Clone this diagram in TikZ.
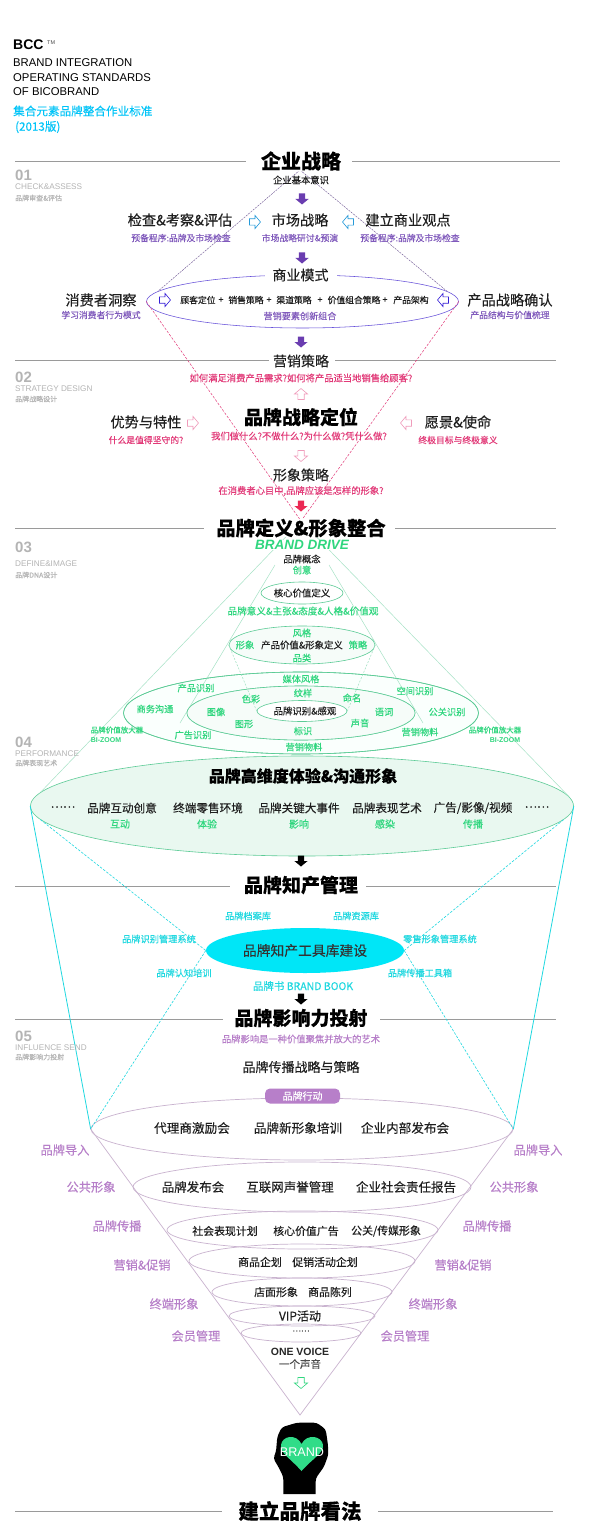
\documentclass[tikz,border=0pt]{standalone}
\usepackage{fontspec}
\setmainfont{Noto Sans CJK SC}[FakeBold=0.22,BoldFeatures={FakeBold=0.3}]
\newfontfamily\latinf{Liberation Sans}
\usetikzlibrary{shapes.geometric}
\newcommand{\fs}[1]{\fontsize{#1}{#1}\selectfont}
\newcommand{\arw}[4]{\filldraw[#4,shift={(#1,#2)},rotate=#3] (-5.5,-3.2) -- (0,-3.2) -- (0,-6.6) -- (5.5,0) -- (0,6.6) -- (0,3.2) -- (-5.5,3.2) -- cycle;}
\definecolor{vio}{HTML}{6A3DB0}
\definecolor{pinkc}{HTML}{E23A78}
\definecolor{grn}{HTML}{2FD67E}
\definecolor{grnl}{HTML}{5CCB96}
\definecolor{cyanc}{HTML}{1FD8E0}
\definecolor{cyanf}{HTML}{00E6F7}
\definecolor{purp}{HTML}{B77FC9}
\definecolor{purpl}{HTML}{C9B3CF}
\definecolor{rulec}{HTML}{9A9A9A}
\definecolor{secc}{HTML}{B4B4B4}
\tikzset{
 rulex/.style={draw=rulec,line width=0.9pt},
 title/.style={font=\fs{#1}\bfseries,text=black,inner sep=0pt},
 txt/.style={font=\fs{#1},text=black!88,inner sep=0pt},
 violet lab/.style={font=\fs{#1},text=vio!85,inner sep=0pt},
 pinklab/.style={font=\fs{#1},text=pinkc,inner sep=0pt},
 grnlab/.style={font=\fs{#1},text=grn,inner sep=0pt},
 cyanlab/.style={font=\fs{#1},text=cyanc,inner sep=0pt},
 purplab/.style={font=\fs{#1},text=purp,inner sep=0pt},
 secnum/.style={anchor=west,font=\latinf\fs{15}\bfseries,text=secc,inner sep=0pt},
 secen/.style={anchor=west,font=\latinf\fs{8.2},text=secc,inner sep=0pt},
 seccn/.style={anchor=west,font=\fs{7},text=secc,inner sep=0pt},
 hol/.style={draw=#1,fill=white,line width=0.6pt},
 sol/.style={draw=none,fill=#1},
 ell/.style={ellipse,inner sep=0pt,draw=grnl,line width=0.6pt},
 fun/.style={ellipse,inner sep=0pt,draw=purpl,line width=0.7pt},
 dashr/.style={draw=pinkc,line width=0.5pt,dash pattern=on 2.5pt off 1.5pt},
 dashb/.style={draw=vio!50!gray,line width=0.45pt,dash pattern=on 2pt off 1pt},
 gl/.style={draw=grnl!55,line width=0.5pt},
 gld/.style={draw=grnl!60,line width=0.5pt,dash pattern=on 2pt off 1.5pt},
 cysol/.style={draw=cyanc,line width=0.8pt},
 cyd/.style={draw=cyanc,line width=0.6pt,dash pattern=on 2.5pt off 1.5pt},
 whitebg/.style={fill=white,inner xsep=2pt,inner ysep=0pt}
}
\begin{document}
\begin{tikzpicture}[x=1pt,y=-1pt]
\useasboundingbox (0,0) rectangle (600,1538);
\fill[white] (0,0) rectangle (600,1538);
% apex points
\coordinate (apxA) at (300,170);
\coordinate (apxB) at (301,521);
\coordinate (apxF) at (300,1415);
% section rules
\draw[rulex] (15,161) -- (246,161) (352,161) -- (560,161);
\draw[rulex] (15,360) -- (269,360) (335,360) -- (556,360);
\draw[rulex] (15,528) -- (204,528) (395,528) -- (556,528);
\draw[rulex] (15,886) -- (230,886) (366,886) -- (556,886);
\draw[rulex] (15,1019) -- (223,1019) (380,1019) -- (556,1019);
\draw[rulex] (15,1511) -- (222,1511) (378,1511) -- (553,1511);
% key ellipses
\node[ellipse,inner sep=0pt,draw=blue!40!vio!80,line width=0.55pt,minimum width=312pt,minimum height=53pt] (bm) at (302.5,301.5) {};
\node[ell,fill=green!30!cyan!2,minimum width=355pt,minimum height=82pt] (e3) at (301,713) {};
\node[ell,fill=white,minimum width=228pt,minimum height=54pt] (e4) at (301,713) {};
\node[ell,fill={rgb,255:red,233;green,248;blue,240},minimum width=543pt,minimum height=100pt] (big) at (302,806) {};
% dashed frame lines
\draw[dashb] (apxA) -- (bm.176);
\draw[dashb] (apxA) -- (bm.4);
\draw[dashr] (bm.west) -- (apxB);
\draw[dashr] (bm.east) -- (apxB);
\draw[gl] (apxB) -- (big.177.5);
\draw[gl] (apxB) -- (big.2.5);
\coordinate (gA) at (275,565); \coordinate (gB) at (329,565);
\coordinate (gC) at (180,723); \coordinate (gD) at (423,723);
\draw[gl] (gA) -- (gC);
\draw[gl] (gB) -- (gD);
% green ellipses redrawn above the lines
\node[ell,minimum width=355pt,minimum height=82pt] (e3b) at (301,713) {};
\node[ell,fill={rgb,255:red,246;green,252;blue,249},minimum width=228pt,minimum height=54pt] (e4b) at (301,713) {};
\node[ell,fill=white,minimum width=90pt,minimum height=21pt] (e5) at (302,711) {};
\node[ell,fill={rgb,255:red,246;green,252;blue,249},minimum width=146pt,minimum height=38pt] (e2) at (302,645) {};
\node[ell,fill=white,minimum width=82pt,minimum height=22pt] (e1g) at (302,593) {};
\draw[gld] (e2.west) -- (e5.west);
\draw[gld] (e2.east) -- (e5.east);
% funnel ellipses
\node[fun,minimum width=422pt,minimum height=62pt] (f1) at (302,1129) {};
\node[fun,minimum width=338pt,minimum height=50pt] (f2) at (302,1187) {};
\node[fun,minimum width=271pt,minimum height=38pt] (f3) at (302.5,1230) {};
\node[fun,minimum width=226pt,minimum height=34pt] (f4) at (302,1261) {};
\node[fun,minimum width=180pt,minimum height=28pt] (f5) at (302,1292) {};
\node[fun,minimum width=146pt,minimum height=20pt] (f6) at (302,1316) {};
\node[fun,minimum width=120pt,minimum height=18pt] (f7) at (301,1333) {};
\draw[purpl,line width=0.7pt] (f1.west) -- (apxF) -- (f1.east);
% cyan ellipse and lines
\node[ellipse,inner sep=0pt,fill=cyanf,minimum width=198pt,minimum height=45pt,font=\fs{13.8},text=black!80] (cy) at (305,950.5) {品牌知产工具库建设};
\draw[cysol] (big.west) -- (f1.west);
\draw[cysol] (big.east) -- (f1.east);
\draw[cyd] (big.183.5) -- (cy.west);
\draw[cyd] (big.-3.5) -- (cy.east);
\draw[cyd] (cy.west) -- (f1.west);
\draw[cyd] (cy.east) -- (f1.east);
% header
\node[anchor=west,font=\latinf\fs{14}\bfseries,inner sep=0pt] (hb) at (13,45) {BCC};
\node[anchor=west,font=\latinf\fs{5.5},inner sep=0pt,text=black!70] (htm) at (47,43) {TM};
\node[anchor=west,font=\latinf\fs{11.3},inner sep=0pt] (h1) at (13,63) {BRAND INTEGRATION};
\node[anchor=west,font=\latinf\fs{11.3},inner sep=0pt] (h2) at (13,78) {OPERATING STANDARDS};
\node[anchor=west,font=\latinf\fs{11.3},inner sep=0pt] (h3) at (13,92) {OF BICOBRAND};
\node[anchor=west,font=\fs{11.6},text=cyanf!85!blue,inner sep=0pt] (h4) at (13,111) {集合元素品牌整合作业标准};
\node[anchor=west,font=\fs{11.6},text=cyanf!85!blue,inner sep=0pt] (h5) at (15,127) {(2013版)};
% section captions
\node[secnum] (s1a) at (15,175) {01};
\node[secen] (s1b) at (15,187) {CHECK\&ASSESS};
\node[seccn] (s1c) at (15,198) {品牌审查\&评估};
\node[secnum] (s2a) at (15,377) {02};
\node[secen] (s2b) at (15,389) {STRATEGY DESIGN};
\node[seccn] (s2c) at (15,399) {品牌战略设计};
\node[secnum] (s3a) at (15,547) {03};
\node[secen] (s3b) at (15,564) {DEFINE\&IMAGE};
\node[seccn] (s3c) at (15,575) {品牌DNA设计};
\node[secnum] (s4a) at (15,742) {04};
\node[secen] (s4b) at (15,754) {PERFORMANCE};
\node[seccn] (s4c) at (15,763) {品牌表现艺术};
\node[secnum] (s5a) at (15,1036) {05};
\node[secen] (s5b) at (15,1048) {INFLUENCE SEND};
\node[seccn] (s5c) at (15,1057) {品牌影响力投射};
% section 01
\node[title=20,whitebg] (t1) at (301,161) {企业战略};
\node[txt=9.3] (a1) at (301,180) {企业基本意识};
\arw{302}{199}{270}{sol=vio}
\node[txt=14.2] (a2) at (180,220) {检查\&考察\&评估};
\node[txt=14.2] (a3) at (300,220) {市场战略};
\node[txt=14.2] (a4) at (408,220) {建立商业观点};
\node[violet lab=8.8] (a5) at (181,238) {预备程序:品牌及市场检查};
\node[violet lab=8.8] (a6) at (300,238) {市场战略研讨\&预演};
\node[violet lab=8.8] (a7) at (410,238) {预备程序:品牌及市场检查};
\arw{255}{222}{0}{hol=blue!35!cyan!70!gray}
\arw{348}{222}{180}{hol=blue!35!cyan!70!gray}
\arw{302}{258}{270}{sol=vio}
\node[txt=14,fill=white,inner xsep=8pt,inner ysep=2pt] (a8) at (300.5,275) {商业模式};
\node[txt=14.2] (a9) at (101,300) {消费者洞察};
\node[violet lab=8.8] (a10) at (101,315) {学习消费者行为模式};
\node[txt=14.2] (a11) at (510,300) {产品战略确认};
\node[violet lab=8.8] (a12) at (510,315) {产品结构与价值梳理};
\arw{165}{300}{0}{hol=blue!50!vio}
\arw{443}{300}{180}{hol=blue!50!vio}
\node[txt=8.8] (b1) at (198,300) {顾客定位};
\node[txt=8.8] (b2) at (221,300) {+};
\node[txt=8.8] (b3) at (246,300) {销售策略};
\node[txt=8.8] (b4) at (269,300) {+};
\node[txt=8.8] (b5) at (294,300) {渠道策略};
\node[txt=8.8] (b6) at (320,300) {+};
\node[txt=8.8] (b7) at (354,300) {价值组合策略};
\node[txt=8.8] (b8) at (385,300) {+};
\node[txt=8.8] (b9) at (411,300) {产品架构};
\node[violet lab=9.1] (b10) at (300,316) {营销要素创新组合};
\arw{301}{342}{270}{sol=vio}
% section 02
\node[txt=14,whitebg] (c1) at (301,361) {营销策略};
\node[pinklab=9.3] (c2) at (301,378) {如何满足消费产品需求?如何将产品适当地销售给顾客?};
\arw{301}{394}{90}{hol=pinkc!50}
\node[title=19] (c3) at (301,417) {品牌战略定位};
\node[txt=14.2] (c4) at (146,422) {优势与特性};
\node[pinklab=8.8] (c5) at (146,440) {什么是值得坚守的?};
\arw{193}{423}{0}{hol=pinkc!50}
\arw{406}{423}{180}{hol=pinkc!50}
\node[txt=14.2] (c6) at (458,422) {愿景\&使命};
\node[pinklab=8.8] (c7) at (458,440) {终极目标与终极意义};
\node[pinklab=9.3] (c8) at (299,436) {我们做什么?不做什么?为什么做?凭什么做?};
\arw{301}{456}{270}{hol=pinkc!50}
\node[txt=14] (c9) at (301,475) {形象策略};
\node[pinklab=9.3] (c10) at (301,491) {在消费者心目中,品牌应该是怎样的形象?};
\arw{301}{506}{270}{sol=pinkc!70!red}
% section 03
\node[title=19.3,whitebg] (t3) at (301,528) {品牌定义\&形象整合};
\node[font=\latinf\fs{13.5}\bfseries\itshape,text=grn,fill=white,inner xsep=2pt,inner ysep=0pt] (d1) at (302,545) {BRAND DRIVE};
\node[txt=9.3,fill=white] (d2) at (302,559) {品牌概念};
\node[grnlab=9.3] (d3) at (302,570) {创意};
\node[txt=9.4] (d4) at (302,593) {核心价值定义};
\node[grnlab=9.6] (d5) at (303,611) {品牌意义\&主张\&态度\&人格\&价值观};
\node[grnlab=9.3] (d6) at (302,633) {风格};
\node[grnlab=9.3] (d7) at (245,645) {形象};
\node[txt=9.4] (d8) at (302,645) {产品价值\&形象定义};
\node[grnlab=9.3] (d9) at (358,645) {策略};
\node[grnlab=9.3] (d10) at (302,658) {品类};
\node[grnlab=9.2] (g1) at (301,679) {媒体风格};
\node[grnlab=9.2] (g2) at (303,693) {纹样};
\node[grnlab=9.2] (g3) at (196,688) {产品识别};
\node[grnlab=9.2] (g4) at (415,691) {空间识别};
\node[grnlab=9.2] (g5) at (155,709) {商务沟通};
\node[grnlab=9.2] (g6) at (216,712) {图像};
\node[grnlab=9.2] (g7) at (251,699) {色彩};
\node[grnlab=9.2] (g8) at (352,698) {命名};
\node[grnlab=9.2] (g9) at (384,712) {语词};
\node[grnlab=9.2] (g10) at (447,712) {公关识别};
\node[grnlab=9.2] (g11) at (244,724) {图形};
\node[grnlab=9.2] (g12) at (360,723) {声音};
\node[grnlab=9.2] (g13) at (303,731) {标识};
\node[grnlab=9.2] (g14) at (193,735) {广告识别};
\node[grnlab=9.2] (g15) at (420,732) {营销物料};
\node[grnlab=9.2] (g16) at (304,747) {营销物料};
\node[txt=9.4] (g17) at (305,711) {品牌识别\&感观};
\node[grnlab=7.5] (g18) at (117,730) {品牌价值放大器};
\node[font=\latinf\fs{7}\bfseries,text=grn,inner sep=0pt] (g19) at (106,740) {BI-ZOOM};
\node[grnlab=7.5] (g20) at (495,730) {品牌价值放大器};
\node[font=\latinf\fs{7}\bfseries,text=grn,inner sep=0pt] (g21) at (505,740) {BI-ZOOM};
% section 04
\node[title=16] (p1) at (303,776) {品牌高维度体验\&沟通形象};
\node[txt=11.6] (p2) at (63,807) {……};
\node[txt=11.6] (p3) at (122,808) {品牌互动创意};
\node[txt=11.6] (p4) at (208,808) {终端零售环境};
\node[txt=11.6] (p5) at (299,808) {品牌关键大事件};
\node[txt=11.6] (p6) at (387,808) {品牌表现艺术};
\node[txt=11.6] (p7) at (473,808) {广告/影像/视频};
\node[txt=11.6] (p8) at (537,807) {……};
\node[grnlab=10] (p9) at (120,824) {互动};
\node[grnlab=10] (p10) at (207,824) {体验};
\node[grnlab=10] (p11) at (299,824) {影响};
\node[grnlab=10] (p12) at (385,824) {感染};
\node[grnlab=10] (p13) at (473,824) {传播};
\arw{301}{861}{270}{sol=black}
\node[title=19,whitebg] (t4) at (301,885) {品牌知产管理};
% cyan labels
\node[cyanlab=9.2] (k1) at (248,916) {品牌档案库};
\node[cyanlab=9.2] (k2) at (356,916) {品牌资源库};
\node[cyanlab=9.2] (k3) at (159,939) {品牌识别管理系统};
\node[cyanlab=9.2] (k4) at (440,939) {零售形象管理系统};
\node[cyanlab=9.2] (k5) at (184,973) {品牌认知培训};
\node[cyanlab=9.2] (k6) at (420,973) {品牌传播工具箱};
\node[cyanlab=10.5] (k7) at (303,986) {品牌书 BRAND BOOK};
\arw{301}{999}{270}{sol=black}
% section 05
\node[title=19,whitebg] (t5) at (301,1018) {品牌影响力投射};
\node[purplab=9.3] (m1) at (301,1039) {品牌影响是一种价值聚焦并放大的艺术};
\node[txt=13] (m2) at (301,1067) {品牌传播战略与策略};
\node[rectangle,rounded corners=5pt,fill=purp,text=white,font=\fs{10},minimum width=75pt,minimum height=15pt,inner sep=0pt] (m3) at (302.5,1096) {品牌行动};
\node[txt=12.6] (n1) at (192,1128) {代理商激励会};
\node[txt=12.6] (n2) at (298,1128) {品牌新形象培训};
\node[txt=12.6] (n3) at (405,1128) {企业内部发布会};
\node[txt=12.5] (n4) at (193,1187) {品牌发布会};
\node[txt=12.5] (n5) at (290,1187) {互联网声誉管理};
\node[txt=12.5] (n6) at (406,1187) {企业社会责任报告};
\node[txt=10.9] (n7) at (225,1231) {社会表现计划};
\node[txt=10.9] (n8) at (306,1231) {核心价值广告};
\node[txt=10.9] (n9) at (386,1231) {公关/传媒形象};
\node[txt=10.9] (n10) at (260,1262) {商品企划};
\node[txt=10.9] (n11) at (325,1262) {促销活动企划};
\node[txt=10.9] (n12) at (276,1292) {店面形象};
\node[txt=10.9] (n13) at (330,1292) {商品陈列};
\node[txt=12] (n14) at (300,1316) {VIP活动};
\node[txt=8] (n15) at (301,1331) {……};
\node[font=\latinf\fs{10.5}\bfseries,text=black!85,inner sep=0pt] (n16) at (300,1352) {ONE VOICE};
\node[font=\fs{10.5},text=black!70,inner sep=0pt] (n17) at (300,1364) {一个声音};
\arw{301}{1383}{270}{hol=grn}
% side labels
\node[purplab=12.2] (q1) at (65,1150) {品牌导入};
\node[purplab=12.2] (q2) at (538,1150) {品牌导入};
\node[purplab=12.2] (q3) at (91,1187) {公共形象};
\node[purplab=12.2] (q4) at (514,1187) {公共形象};
\node[purplab=12.2] (q5) at (117,1226) {品牌传播};
\node[purplab=12.2] (q6) at (487,1226) {品牌传播};
\node[purplab=12.2] (q7) at (142,1265) {营销\&促销};
\node[purplab=12.2] (q8) at (463,1265) {营销\&促销};
\node[purplab=12.2] (q9) at (174,1304) {终端形象};
\node[purplab=12.2] (q10) at (433,1304) {终端形象};
\node[purplab=12.2] (q11) at (196,1336) {会员管理};
\node[purplab=12.2] (q12) at (405,1336) {会员管理};
% head
\fill[black] (283.3,1494) [rounded corners=3pt] -- (283.3,1476.7) -- (278.3,1466.7) -- (273.3,1458.3) -- (276,1451.7) -- (277.3,1436.7) -- (281.7,1427.3) -- (296.7,1422.7) -- (316.7,1422.7) -- (325.7,1429.3) -- (328,1445) -- (328.3,1455) -- (324,1466.7) -- (315.7,1478.3) [sharp corners] -- (315.7,1494) -- cycle;
\fill[fill={rgb,255:red,48;green,220;blue,136}] (301.5,1471) .. controls (290,1458) and (280,1453) .. (281,1445) .. controls (282,1436) and (296,1433) .. (301.5,1444) .. controls (307,1433) and (322,1436) .. (323,1445) .. controls (324,1453) and (313,1458) .. (301.5,1471) -- cycle;
\node[font=\latinf\fs{12.6},text=white,inner sep=0pt] (br) at (302,1452) {BRAND};
\node[title=20.5,whitebg] (t6) at (300,1511) {建立品牌看法};
\end{tikzpicture}
\end{document}
